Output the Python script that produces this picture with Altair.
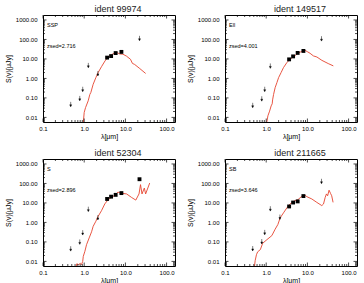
import altair as alt
import pandas as pd

FONT = "Liberation Sans"
RED = "#e5432e"
W, H = 132, 107

# Photometric bands (micron): upper limits, IRAC channels, MIPS 24
limit_lam = [0.47, 0.78, 0.92, 1.26, 2.15, 22.0]
irac_lam = [3.6, 4.5, 5.8, 8.0]
mips_lam = [22.0]

# ---- ident 99974 (SSP) ----
p1_limits = [0.047, 0.095, 0.28, 4.7, 1.8, 115]
p1_irac = [11.7, 14.0, 20.0, 23.0]
p1_mips = []
p1_model_lam = [0.93, 1.0, 1.08, 1.25, 1.37, 1.45, 1.65, 1.92, 2.18, 2.63, 3.2, 3.8,
                4.6, 5.5, 6.3, 7.3, 8.7, 10.6, 13.3, 14.8, 16.8, 22.4, 31.0]
p1_model_flux = [0.003, 0.018, 0.032, 0.071, 0.15, 0.19, 0.50, 1.1, 2.0, 4.0, 7.9, 12.6,
                 16.6, 20.0, 21.0, 18.0, 17.5, 14.0, 9.6, 5.9, 5.2, 3.2, 1.8]

# ---- ident 149517 (Ell) ----
p2_limits = [0.042, 0.091, 0.28, 4.4, None, 110]
p2_irac = [9.5, 13.5, 20.4, 25.7]
p2_mips = []
p2_model_lam = [1.02, 1.04, 1.1, 1.21, 1.32, 1.40, 1.43, 1.51, 1.65, 1.82, 2.0, 2.3, 2.63,
                3.16, 3.8, 4.6, 5.9, 7.3, 8.8, 10.2, 11.6, 14.0, 17.0, 22.4, 32.0, 42.6]
p2_model_flux = [0.003, 0.006, 0.012, 0.021, 0.039, 0.05, 0.079, 0.15, 0.34, 0.61, 1.1, 2.0, 3.6,
                 6.4, 9.6, 13.0, 19.5, 24.5, 27.5, 23.0, 19.5, 14.3, 12.6, 8.5, 5.8, 4.4]

# ---- ident 52304 (S) ----
p3_limits = [0.045, 0.10, 0.30, 4.8, 1.8, None]
p3_irac = [16.0, 21.0, 26.0, 32.0]
p3_mips = [165.0]
p3_model_lam = [0.62, 0.66, 0.74, 0.80, 0.86, 0.92, 0.95, 1.04, 1.14, 1.32, 1.51, 1.65, 1.92,
                2.18, 2.63, 3.16, 3.8, 4.6, 5.5, 6.6, 7.6, 10.7, 14.2, 17.9, 21.4, 23.3,
                25.3, 28.8, 31.0, 38.9]
p3_model_flux = [0.004, 0.0075, 0.0068, 0.008, 0.0068, 0.01, 0.018, 0.033, 0.072, 0.16, 0.33,
                 0.63, 1.15, 2.05, 4.0, 8.9, 14.7, 19.4, 24.5, 36.0, 32.0, 29.0, 19.0, 14.0,
                 29.0, 87.0, 29.0, 58.0, 29.0, 105.0]

# ---- ident 211665 (SB) ----
p4_limits = [0.046, 0.105, 0.31, 5.1, 1.9, 130]
p4_irac = [6.6, 10.5, 12.0, 22.5]
p4_mips = []
p4_model_lam = [0.51, 0.54, 0.58, 0.62, 0.72, 0.82, 1.04, 1.37, 1.65, 1.92, 2.18, 2.63, 3.16,
                3.8, 4.6, 5.9, 7.3, 8.8, 9.7, 12.8, 16.9, 22.4, 24.6, 27.0, 29.0, 31.0,
                33.6, 36.4, 38.9, 42.0]
p4_model_flux = [0.004, 0.011, 0.022, 0.031, 0.040, 0.085, 0.13, 0.21, 0.45, 0.78, 1.7, 3.1,
                 5.5, 8.9, 12.0, 14.7, 22.0, 24.5, 21.0, 16.0, 10.7, 7.3, 8.8, 19.0, 29.0,
                 23.4, 45.0, 31.0, 23.4, 10.7]

# Axis ticks
x_major = [0.1, 1, 10, 100]
x_minor = [m * 10.0 ** e for e in (-1, 0, 1) for m in range(2, 10)]
y_major = [0.01, 0.1, 1, 10, 100, 1000]
y_minor = [m * 10.0 ** e for e in (-3, -2, -1, 0, 1, 2) for m in range(2, 10)]
y_minor = [v for v in y_minor if 0.0058 <= v <= 1800]

XS = alt.Scale(type="log", domain=[0.1, 160], nice=False)
YS = alt.Scale(type="log", domain=[0.0058, 1800], nice=False)

x_axis = alt.Axis(
    title="λ[μm]", values=x_major, format=".1f", grid=False, domain=False,
    ticks=False, tickSize=0, labelPadding=3, titlePadding=1,
    labelFontSize=6, titleFontSize=7, labelFont=FONT, titleFont=FONT,
    labelColor="black", titleColor="black", titleFontWeight="normal",
    labelFlush=False, labelOverlap=False, labelBound=False,
)
y_axis = alt.Axis(
    title="S(ν)[μJy]", values=y_major, format=".2f", grid=False, domain=False,
    ticks=False, tickSize=0, labelPadding=6, titlePadding=4,
    labelFontSize=6, titleFontSize=7, labelFont=FONT, titleFont=FONT,
    labelColor="black", titleColor="black", titleFontWeight="normal",
    labelFlush=False, labelOverlap=False, labelBound=False,
)


def xenc():
    return alt.X("lam:Q", scale=XS, axis=x_axis)


def yenc():
    return alt.Y("flux:Q", scale=YS, axis=y_axis)


# small downward arrow used for the upper limits
ARROW = "M0,-1L0,0.2M-0.38,0.2L0.38,0.2L0,1Z"


def frame_ticks(values, length):
    xs = pd.DataFrame({"lam": values["x"]})
    ys = pd.DataFrame({"flux": values["y"]})
    rule = dict(color="black", strokeWidth=0.7)
    return [
        alt.Chart(xs).mark_rule(**rule).encode(x=xenc(), y=alt.value(H), y2=alt.value(H - length)),
        alt.Chart(xs).mark_rule(**rule).encode(x=xenc(), y=alt.value(0), y2=alt.value(length)),
        alt.Chart(ys).mark_rule(**rule).encode(y=yenc(), x=alt.value(0), x2=alt.value(length)),
        alt.Chart(ys).mark_rule(**rule).encode(y=yenc(), x=alt.value(W), x2=alt.value(W - length)),
    ]


def panel(ident, sed_type, zsed, limits, irac, mips, model_lam, model_flux):
    lim = pd.DataFrame({"lam": limit_lam, "flux": limits}).dropna()
    sq = pd.DataFrame({"lam": irac_lam + mips_lam[:len(mips)], "flux": irac + mips})
    model = pd.DataFrame({"lam": model_lam, "flux": model_flux})

    curve = alt.Chart(model).mark_line(color=RED, strokeWidth=0.9, clip=True).encode(
        x=xenc(), y=yenc())
    arrows = alt.Chart(lim).mark_point(
        shape=ARROW, size=24, filled=True, fill="black", stroke="black",
        strokeWidth=0.5, opacity=1).encode(x=xenc(), y=yenc())
    squares = alt.Chart(sq).mark_square(size=15, color="black", opacity=1).encode(
        x=xenc(), y=yenc())
    txt = pd.DataFrame({"t": [sed_type, f"zsed={zsed}"]})
    label1 = alt.Chart(txt.iloc[[0]]).mark_text(
        align="left", baseline="middle", fontSize=5.5, font=FONT, color="black").encode(
        text="t:N", x=alt.value(4), y=alt.value(10))
    label2 = alt.Chart(txt.iloc[[1]]).mark_text(
        align="left", baseline="middle", fontSize=5.5, font=FONT, color="black").encode(
        text="t:N", x=alt.value(4), y=alt.value(30.5))

    layers = [curve, arrows, squares, label1, label2]
    layers += frame_ticks({"x": x_major, "y": y_major}, 3.5)
    layers += frame_ticks({"x": x_minor, "y": y_minor}, 2)
    return alt.layer(*layers).properties(
        width=W, height=H,
        title=alt.TitleParams(text=f"ident  {ident}", fontSize=9, font=FONT,
                              fontWeight="normal", color="#222222", dx=9, offset=1),
    )


p1 = panel(99974, "SSP", "2.716", p1_limits, p1_irac, p1_mips, p1_model_lam, p1_model_flux)
p2 = panel(149517, "Ell", "4.001", p2_limits, p2_irac, p2_mips, p2_model_lam, p2_model_flux)
p3 = panel(52304, "S", "2.896", p3_limits, p3_irac, p3_mips, p3_model_lam, p3_model_flux)
p4 = panel(211665, "SB", "3.646", p4_limits, p4_irac, p4_mips, p4_model_lam, p4_model_flux)

chart = alt.concat(
    p1, p2, p3, p4, columns=2, spacing={"row": 37, "column": 50}, bounds="flush"
).properties(
    padding={"left": 3, "top": 4, "right": 0, "bottom": 0},
    background="white",
).configure_view(stroke="black", strokeWidth=1)

chart.save("out.html", embed_options={"renderer": "svg", "actions": False})
